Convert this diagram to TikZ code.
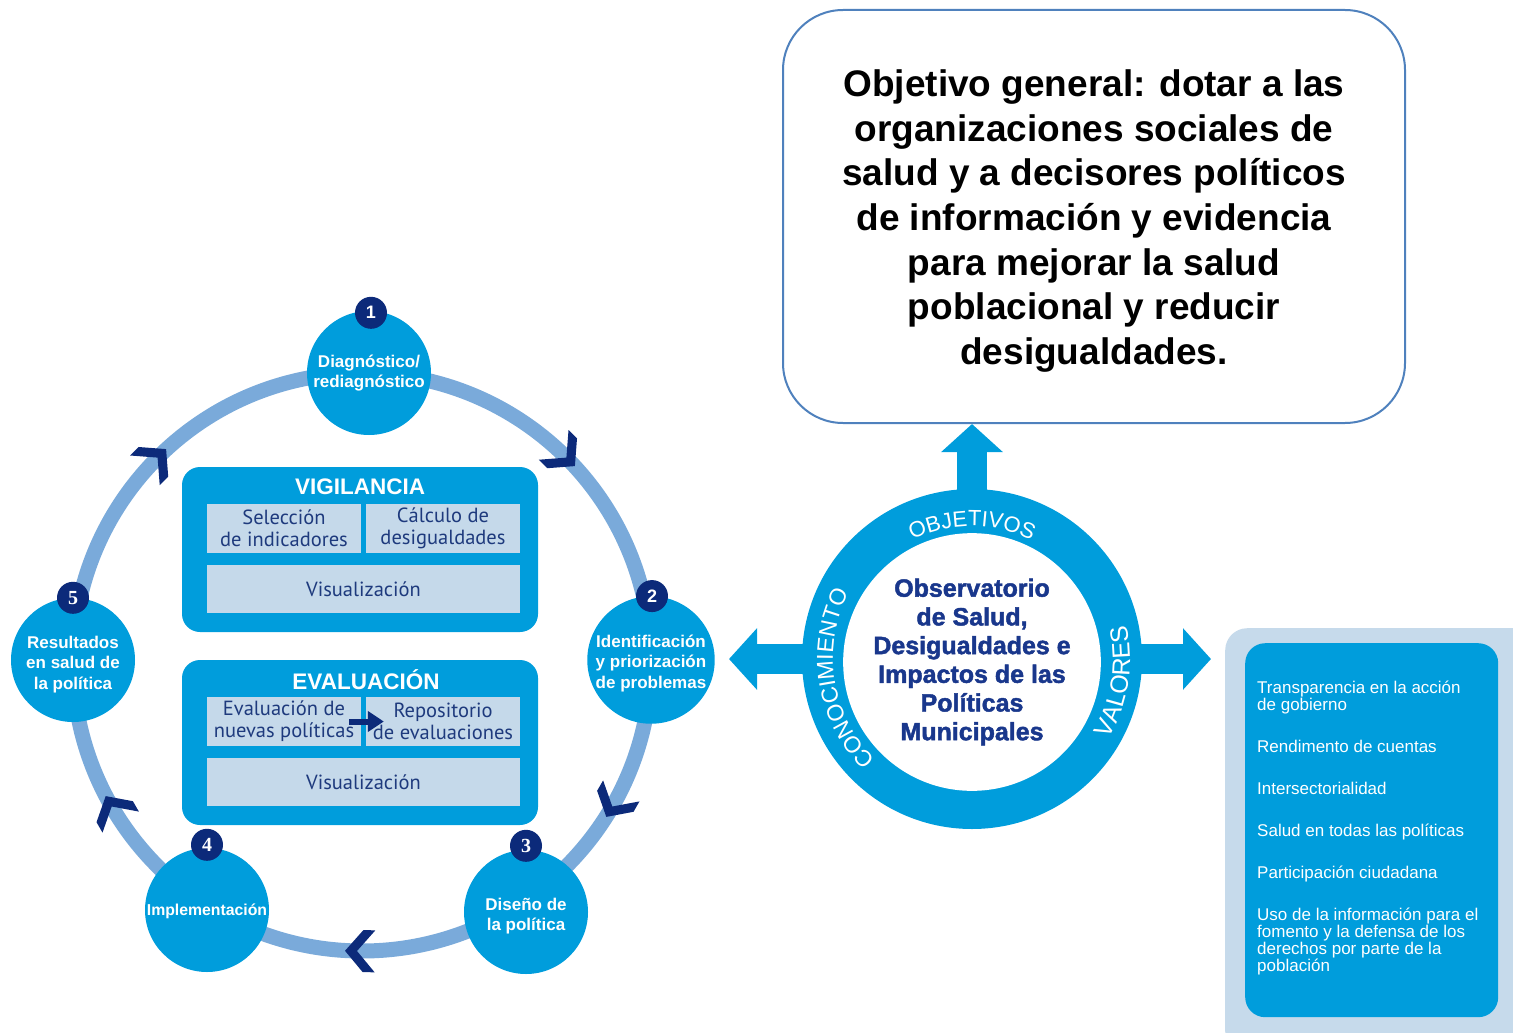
\documentclass[tikz,border=0pt]{standalone}
\usepackage{fontspec}
\setmainfont{Liberation Sans}
\newfontfamily\ptsans{PT Sans}
\newfontfamily\numserif{Liberation Serif}
\newfontfamily\heavyfont[FakeBold=1.8]{Liberation Sans Bold}
\usetikzlibrary{arrows.meta,decorations.text}
\definecolor{mainblue}{RGB}{0,157,220}
\definecolor{ringblue}{RGB}{122,170,218}
\definecolor{navy}{RGB}{12,42,122}
\definecolor{subfill}{RGB}{197,217,234}
\definecolor{subtext}{RGB}{30,58,125}
\definecolor{obstext}{RGB}{25,55,140}
\definecolor{goalborder}{RGB}{79,129,189}
\definecolor{valouter}{RGB}{198,218,235}
\newcommand\lowstrut[1]{\rule{0pt}{#1}}
\tikzset{
  ringline/.style={draw=ringblue, line width=15pt},
  stage/.style={circle, fill=mainblue, minimum size=124pt, inner sep=0pt, text=white,
    font=\bfseries\fontsize{17}{20.5}\selectfont, align=center},
  badge/.style={circle, fill=navy, minimum size=32pt, inner sep=0pt, text=white,
    font=\bfseries\fontsize{18}{18}\selectfont},
  serifbadge/.style={badge, font=\numserif\bfseries\fontsize{20}{20}\selectfont},
  chev/.style={fill=navy},
  panel/.style={fill=mainblue, rounded corners=18pt, minimum width=356pt, minimum height=165pt, inner sep=0pt},
  paneltitle/.style={text=white, font=\bfseries\fontsize{22.5}{22.5}\selectfont, inner sep=0pt},
  subbox/.style={fill=subfill, text=subtext, font=\ptsans\fontsize{20.5}{22}\selectfont,
    align=center, inner sep=0pt, minimum width=154pt, minimum height=49pt},
  widebox/.style={subbox, minimum width=313pt, minimum height=48pt},
  bigarrow/.style={draw=mainblue, line width=30pt, -{Triangle[length=28pt,width=60pt]}},
  goalbox/.style={draw=goalborder, line width=2pt, fill=white, rounded corners=60pt,
    minimum width=622pt, minimum height=413pt, align=center, text=black,
    font=\bfseries\fontsize{37}{44.7}\selectfont},
  valtext/.style={text=white, font=\fontsize{17}{17}\selectfont, anchor=base west, inner sep=0pt},
}
\begin{document}
\begin{tikzpicture}[x=1pt,y=-1pt]
\useasboundingbox (0,0) rectangle (1513,1033);
\begin{scope}
\clip (0,0) rectangle (1513,1033);

% ---------- policy cycle ----------
\draw[ringline] (362,662) circle[radius=289];

\node[panel] (vig) at (360,549.5) {};
\node[paneltitle] (vigt) at (360,487) {VIGILANCIA};
\node[subbox] (sel) at (284,528.5) {Selección\\de indicadores};
\node[subbox] (calc) at (443,528.5) {Cálculo de\\desigualdades};
\node[widebox] (vis1) at (363.5,589) {Visualización};

\node[panel] (eval) at (360,742.5) {};
\node[paneltitle] (evalt) at (366,680) {EVALUACIÓN};
\node[subbox] (eva) at (284,721.5) {Evaluación de\\nuevas políticas};
\node[subbox] (repo) at (443,721.5) {Repositorio\\de evaluaciones};
\node[widebox] (vis2) at (363.5,782) {Visualización};
\draw[navy, line width=6pt, -{Triangle[length=16pt,width=20pt]}]
  ([xshift=-12pt]eva.east) -- ([xshift=18pt]repo.west);

\node[stage] (s1) at (369,373) {Diagnóstico/\\rediagnóstico};
\node[stage] (s2) at (651,660) {\lowstrut{19pt}Identificación\\y priorización\\de problemas};
\node[stage] (s3) at (526,912) {\lowstrut{21pt}Diseño de\\la política};
\node[stage, font=\bfseries\fontsize{15.8}{19}\selectfont] (s4) at (207,910) {\lowstrut{15pt}Implementación};
\node[stage] (s5) at (73,660) {\lowstrut{21pt}Resultados\\en salud de\\la política};

\node[badge] (b1) at ([xshift=2pt,yshift=-2pt]s1.north) {1};
\node[badge] (b2) at ([xshift=1pt]s2.north) {2};
\node[serifbadge] (b3) at ([yshift=4pt]s3.north) {3};
\node[serifbadge] (b4) at ([yshift=3pt]s4.north) {4};
\node[serifbadge] (b5) at (s5.north) {5};

% chevrons on the ring (clockwise)
\foreach \px/\py/\rot in {157.6/457.6/45, 566.4/457.6/-45, 612.3/806.5/-120, 357/951/-181, 111.7/806.5/120}{
  \fill[chev, shift={(\px,\py)}, rotate=\rot] (12,0) -- (-6,21) -- (-18,21) -- (0,0) -- (-18,-21) -- (-6,-21) -- cycle;
}

% ---------- objective box ----------
\node[goalbox] (goal) at (1094,216.5) {\lowstrut{36pt}Objetivo general: dotar a las\\organizaciones sociales de\\salud y a decisores políticos\\de información y evidencia\\para mejorar la salud\\poblacional y reducir\\desigualdades.};

% ---------- values panel ----------
\node[fill=valouter, rounded corners=22pt, minimum width=320pt, minimum height=425pt, inner sep=0pt, anchor=north west] (valout) at (1225,628) {};
\node[fill=mainblue, rounded corners=20pt, minimum width=253pt, minimum height=374pt, inner sep=0pt, anchor=north west] (valin) at (1245,643) {};
\node[valtext] (v1a) at (1257,693) {Transparencia en la acción};
\node[valtext] (v1b) at (1257,710) {de gobierno};
\node[valtext] (v2) at (1257,752) {Rendimento de cuentas};
\node[valtext] (v3) at (1257,794) {Intersectorialidad};
\node[valtext] (v4) at (1257,836) {Salud en todas las políticas};
\node[valtext] (v5) at (1257,878) {Participación ciudadana};
\node[valtext] (v6a) at (1257,920) {Uso de la información para el};
\node[valtext] (v6b) at (1257,937) {fomento y la defensa de los};
\node[valtext] (v6c) at (1257,954) {derechos por parte de la};
\node[valtext] (v6d) at (1257,971) {población};

% ---------- observatory ----------
\node[circle, fill=mainblue, minimum size=340pt, inner sep=0pt] (obs) at (972,659) {};
\coordinate (lefttip) at (729,659);
\coordinate (righttip) at (1211,659);
\draw[bigarrow, shorten <=-4pt] (obs.north) -- (obs.north |- goal.south);
\draw[bigarrow, shorten <=-4pt] (obs.west) -- (lefttip);
\draw[bigarrow, shorten <=-4pt] (obs.east) -- (righttip);
\node[circle, fill=white, minimum size=234pt, inner sep=0pt, align=center, text=obstext,
  font=\heavyfont\fontsize{25}{28.7}\selectfont] (obsin) at (972,662)
  {Observatorio\\de Salud,\\Desigualdades e\\Impactos de las\\Políticas\\Municipales};

\begin{scope}[shift={(972,659)}, y=1pt]
  \path[decorate, decoration={text along path, text align=center, text color=white,
    text={|\fontsize{22}{22}\selectfont|OBJETIVOS}}]
    (125:133) arc[start angle=125, end angle=55, radius=133];
  \path[decorate, decoration={text along path, text align=center, text color=white,
    text={|\fontsize{23}{23}\selectfont|CONOCIMIENTO}}]
    (232:139) arc[start angle=232, end angle=146, radius=139];
  \path[decorate, decoration={text along path, text align=center, text color=white,
    text={|\fontsize{25}{25}\selectfont|VALORES}}]
    (-44:158) arc[start angle=-44, end angle=26, radius=158];
\end{scope}
\end{scope}
\end{tikzpicture}
\end{document}
